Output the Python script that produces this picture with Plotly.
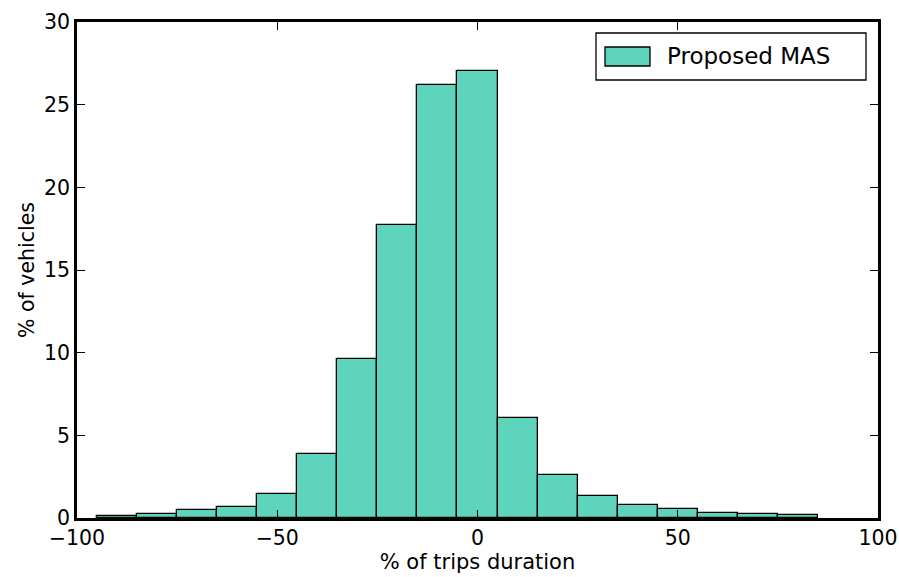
import plotly.graph_objects as go

bin_edges = [-95, -85, -75, -65, -55, -45, -35, -25, -15, -5, 5, 15, 25, 35, 45, 55, 65, 75, 85]
pct_vehicles = [0.12, 0.26, 0.48, 0.67, 1.45, 3.85, 9.6, 17.7, 26.2, 27.05, 6.05, 2.62, 1.33, 0.81, 0.53, 0.32, 0.24, 0.18]
series_name = "Proposed MAS"
x_ticks = [-100, -50, 0, 50, 100]
y_ticks = [0, 5, 10, 15, 20, 25, 30]

centers = [(a + b) / 2 for a, b in zip(bin_edges[:-1], bin_edges[1:])]
widths = [b - a for a, b in zip(bin_edges[:-1], bin_edges[1:])]

fill = "#5fd4bc"
font = "DejaVu Sans"

fig = go.Figure()
fig.add_trace(go.Bar(
    x=centers, y=pct_vehicles, width=widths, name=series_name,
    marker=dict(color=fill, line=dict(color="black", width=1.3)),
    showlegend=False,
))

axis_common = dict(
    showline=True, linecolor="black", linewidth=2.5, mirror="ticks",
    ticks="inside", ticklen=8, tickwidth=1.3, tickcolor="black",
    showgrid=False, zeroline=False, automargin=False,
    tickfont=dict(family=font, size=20.5, color="black"),
)
fig.update_xaxes(range=[-100, 100], tickvals=x_ticks,
                 title=dict(text="% of trips duration", font=dict(family=font, size=21, color="black"), standoff=4),
                 **axis_common)
fig.update_yaxes(range=[0, 30], tickvals=y_ticks,
                 title=dict(text="% of vehicles", font=dict(family=font, size=20.5, color="black"), standoff=4),
                 **axis_common)

# custom legend box
fig.add_shape(type="rect", xref="paper", yref="paper",
              x0=(596 - 77) / 801, x1=(866 - 77) / 801,
              y0=(518 - 80) / 496, y1=(518 - 33) / 496,
              line=dict(color="black", width=1.3), fillcolor="white")
fig.add_shape(type="rect", xref="paper", yref="paper",
              x0=(605 - 77) / 801, x1=(650 - 77) / 801,
              y0=(518 - 66) / 496, y1=(518 - 47) / 496,
              line=dict(color="black", width=1.3), fillcolor=fill)
fig.add_annotation(xref="paper", yref="paper", x=(665 - 77) / 801, y=(518 - 56) / 496,
                   text=series_name, showarrow=False, xanchor="left", yanchor="middle",
                   font=dict(family=font, size=23, color="black"))

fig.update_layout(
    width=899, height=577,
    margin=dict(l=77, r=21, t=22, b=59),
    paper_bgcolor="white", plot_bgcolor="white",
    bargap=0,
)
fig.write_html("out.html")
